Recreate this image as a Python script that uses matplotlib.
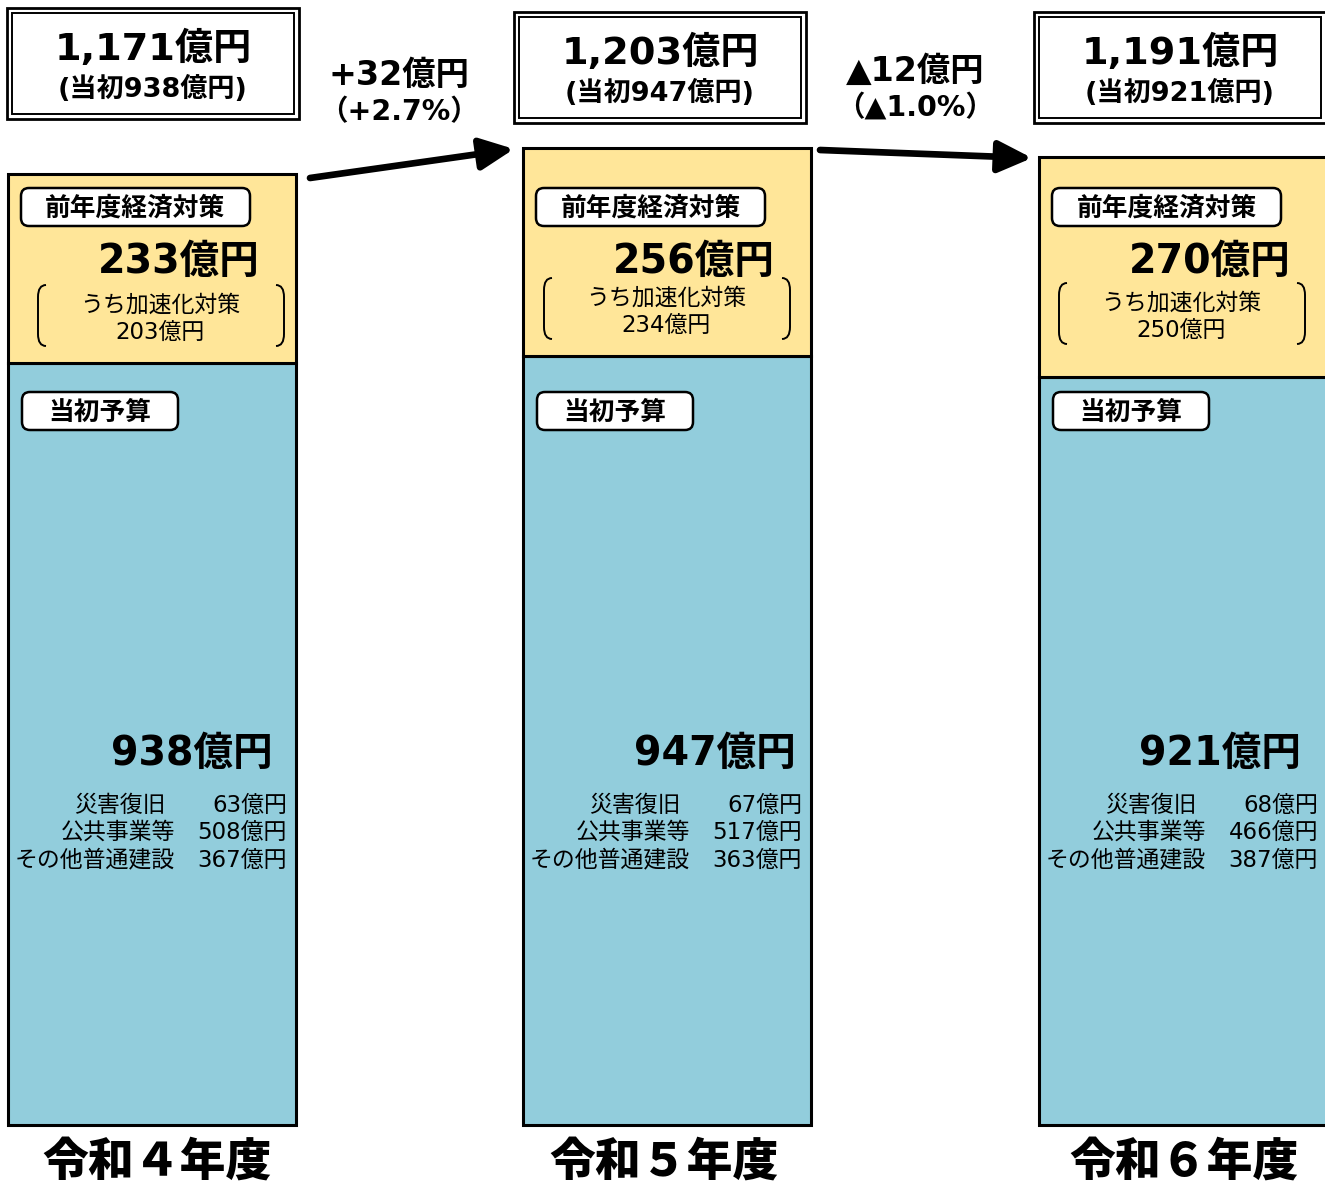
import numpy as np
import matplotlib
matplotlib.use('Agg')
import matplotlib.pyplot as plt
from matplotlib.patches import Rectangle, FancyBboxPatch, PathPatch
from matplotlib.path import Path

plt.rcParams['font.family'] = ['DejaVu Sans', 'Noto Sans CJK JP']

# data (億円)
years = ['令和４年度', '令和５年度', '令和６年度']
initial = [938, 947, 921]        # 当初予算
supplementary = [233, 256, 270]  # 前年度経済対策
accel = [203, 234, 250]          # うち加速化対策
disaster = [63, 67, 68]          # 災害復旧
public = [508, 517, 466]         # 公共事業等
other = [367, 363, 387]          # その他普通建設
breakdown_names = ['災害復旧', '公共事業等', 'その他普通建設']

totals = [a + b for a, b in zip(initial, supplementary)]

# layout (pixels)
W, H = 1325, 1192
base = 1125            # pixel row of bar bottom
scale = 0.8125         # pixels per 億円
xs = [152, 667, 1183]  # bar centres
bw = 288
box_cx = [153, 660, 1180]    # centres of the total boxes
box_top = [8, 12, 12]
bracket_dx = [0, -9, -10]
bracket_dy = [0, -7, -2]
init_right = [265, 273, 262]
yellow = '#FFE699'
blue = '#92CDDC'

fig = plt.figure(figsize=(W / 100, H / 100), dpi=100)
ax = fig.add_axes([0, 0, 1, 1])
ax.set_xlim(0, W)
ax.set_ylim(-(H - base) / scale, base / scale)
ax.axis('off')

ax.bar(xs, initial, width=bw, color=blue, edgecolor='black', linewidth=2.2)
ax.bar(xs, supplementary, width=bw, bottom=initial, color=yellow,
       edgecolor='black', linewidth=2.2)

# overlay in pixel coordinates (y downwards)
ov = fig.add_axes([0, 0, 1, 1])
ov.set_xlim(0, W)
ov.set_ylim(H, 0)
ov.axis('off')


def fmt(v):
    return f'{v:,}億円'


def signed(v):
    return ('+' if v >= 0 else '▲') + f'{abs(v):,}'


def label_box(x0, y0, w, h, text):
    ov.add_patch(FancyBboxPatch((x0, y0), w, h,
                                boxstyle='round,pad=0,rounding_size=8',
                                fc='white', ec='black', lw=1.8))
    ov.text(x0 + w / 2, y0 + h / 2 + 1, text, ha='center', va='center',
            fontsize=18.5, fontweight='bold', family=['Noto Sans CJK JP'])


def bracket(x, y0, y1, side):
    d = 8 * side
    verts = [(x + d, y0), (x, y0), (x, y0 + 12),
             (x, y1 - 12), (x, y1), (x + d, y1)]
    codes = [Path.MOVETO, Path.CURVE3, Path.CURVE3,
             Path.LINETO, Path.CURVE3, Path.CURVE3]
    ov.add_patch(PathPatch(Path(verts, codes), fc='none', ec='black', lw=1.4))


for i in range(3):
    L = xs[i] - bw / 2
    cx = box_cx[i]

    # top double-border total box
    bx0, by0 = cx - 146, box_top[i]
    ov.add_patch(Rectangle((bx0, by0), 292, 111, fc='white', ec='black', lw=2.0))
    ov.add_patch(Rectangle((bx0 + 5, by0 + 5), 282, 101, fc='none', ec='black', lw=1.4))
    ov.text(cx, by0 + 41, fmt(totals[i]), ha='center', va='center',
            fontsize=27.5, fontweight='bold')
    ov.text(cx, by0 + 81, f'(当初{initial[i]:,}億円)', ha='center', va='center',
            fontsize=19.5, fontweight='bold')

    # 前年度経済対策 segment
    label_box(L + 13, 188, 229, 38, '前年度経済対策')
    ov.text(L + 252, 262, fmt(supplementary[i]), ha='right', va='center',
            fontsize=28.5, fontweight='bold')
    bx, by = L + bracket_dx[i], bracket_dy[i]
    bracket(bx + 30, 285 + by, 346 + by, 1)
    bracket(bx + 276, 285 + by, 346 + by, -1)
    ov.text(bx + 152, 305 + by, 'うち加速化対策', ha='center', va='center',
            fontsize=16.5, family=['Noto Sans CJK JP'])
    ov.text(bx + 152, 332 + by, fmt(accel[i]), ha='center', va='center',
            fontsize=16.5)

    # 当初予算 segment
    label_box(L + 14, 392, 156, 38, '当初予算')
    ov.text(L + init_right[i], 754, fmt(initial[i]), ha='right', va='center',
            fontsize=28.5, fontweight='bold')
    vals = [disaster[i], public[i], other[i]]
    for k in range(3):
        yy = 805 + 27.5 * k
        ov.text(L + (158 if k == 0 else 167), yy, breakdown_names[k],
                ha='right', va='center', fontsize=16.5, family=['Noto Sans CJK JP'])
        ov.text(L + 279, yy, fmt(vals[k]), ha='right', va='center', fontsize=16.5)

    # year label
    ov.text(cx + 4, 1162, years[i], ha='center', va='center', fontsize=33,
            fontweight='heavy', family=['Noto Sans CJK JP'])

# change arrows
arrows = [((310, 178), (514, 149)), ((820, 150), (1032, 158))]
text_x = [399, 915]
text_y = [75, 71]
for j in range(2):
    diff = totals[j + 1] - totals[j]
    pct = round(diff / totals[j] * 100, 1)
    ov.annotate('', xy=arrows[j][1], xytext=arrows[j][0],
                arrowprops=dict(arrowstyle='-|>,head_length=0.68,head_width=0.32',
                                lw=4.8, color='black', shrinkA=0, shrinkB=0,
                                mutation_scale=30))
    ov.text(text_x[j], text_y[j], signed(diff) + '億円', ha='center', va='center',
            fontsize=24, fontweight='bold')
    ov.text(text_x[j], text_y[j] + 37, '（' + signed(pct) + '%）', ha='center',
            va='center', fontsize=20.5, fontweight='bold')

fig.savefig('out.png', dpi=100)
